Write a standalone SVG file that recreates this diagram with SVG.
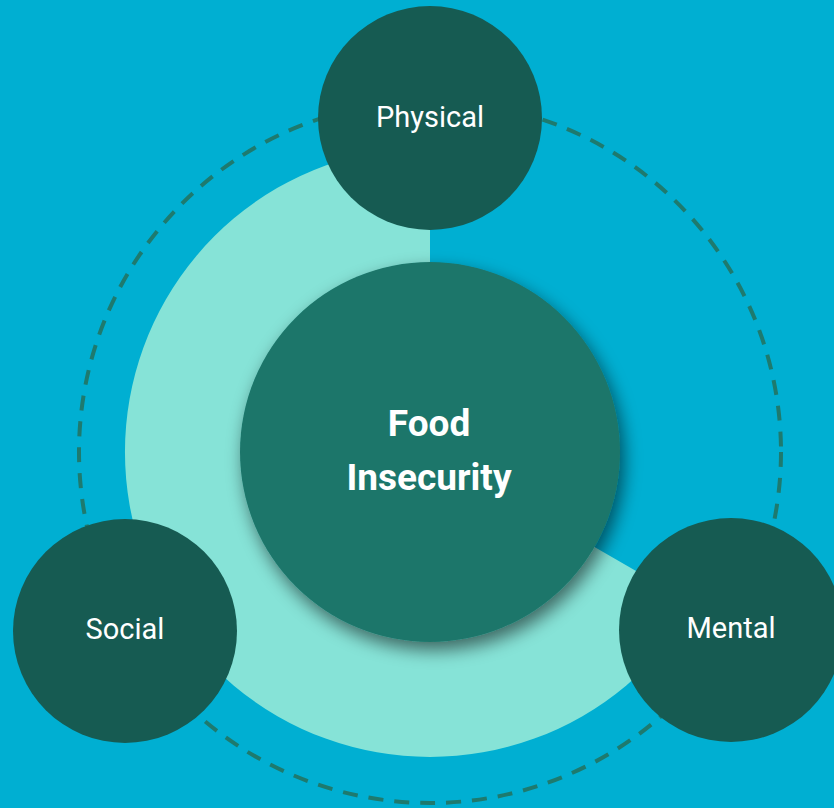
<svg xmlns="http://www.w3.org/2000/svg" width="834" height="808" viewBox="0 0 834 808">
<defs>
<filter id="sh" x="-30%" y="-30%" width="160%" height="160%">
<feGaussianBlur in="SourceAlpha" stdDeviation="9"/>
<feOffset dx="4" dy="8" result="b"/>
<feComponentTransfer><feFuncA type="linear" slope="0.55"/></feComponentTransfer>
<feMerge><feMergeNode/><feMergeNode in="SourceGraphic"/></feMerge>
</filter>
<style>
.node{fill:#165B52}
.lbl{font-family:Roboto,"Liberation Sans",sans-serif;font-size:29px;fill:#ffffff;text-anchor:middle}
.ctr{font-family:Roboto,"Liberation Sans",sans-serif;font-size:37px;font-weight:bold;fill:#ffffff;text-anchor:middle}
</style>
</defs>
<rect width="834" height="808" fill="#00AFD2"/>
<path d="M430,452 L430,147 A305,305 0 1,0 694.1,604.5 Z" fill="#86E3D7"/>
<g id="connectors">
<circle cx="430" cy="452" r="351" fill="none" stroke="#1E7A6E" stroke-width="4" stroke-dasharray="15 11"/>
</g>
<g id="center">
<circle cx="430" cy="452" r="190" fill="#1C766B" filter="url(#sh)"/>
<text class="ctr" x="429" y="436">Food</text>
<text class="ctr" x="429" y="490">Insecurity</text>
</g>
<g id="physical">
<circle class="node" cx="430" cy="118" r="112"/>
<text class="lbl" x="430" y="127">Physical</text>
</g>
<g id="social">
<circle class="node" cx="125" cy="631" r="112"/>
<text class="lbl" x="125" y="639">Social</text>
</g>
<g id="mental">
<circle class="node" cx="731" cy="630" r="112"/>
<text class="lbl" x="731" y="638">Mental</text>
</g>
</svg>
